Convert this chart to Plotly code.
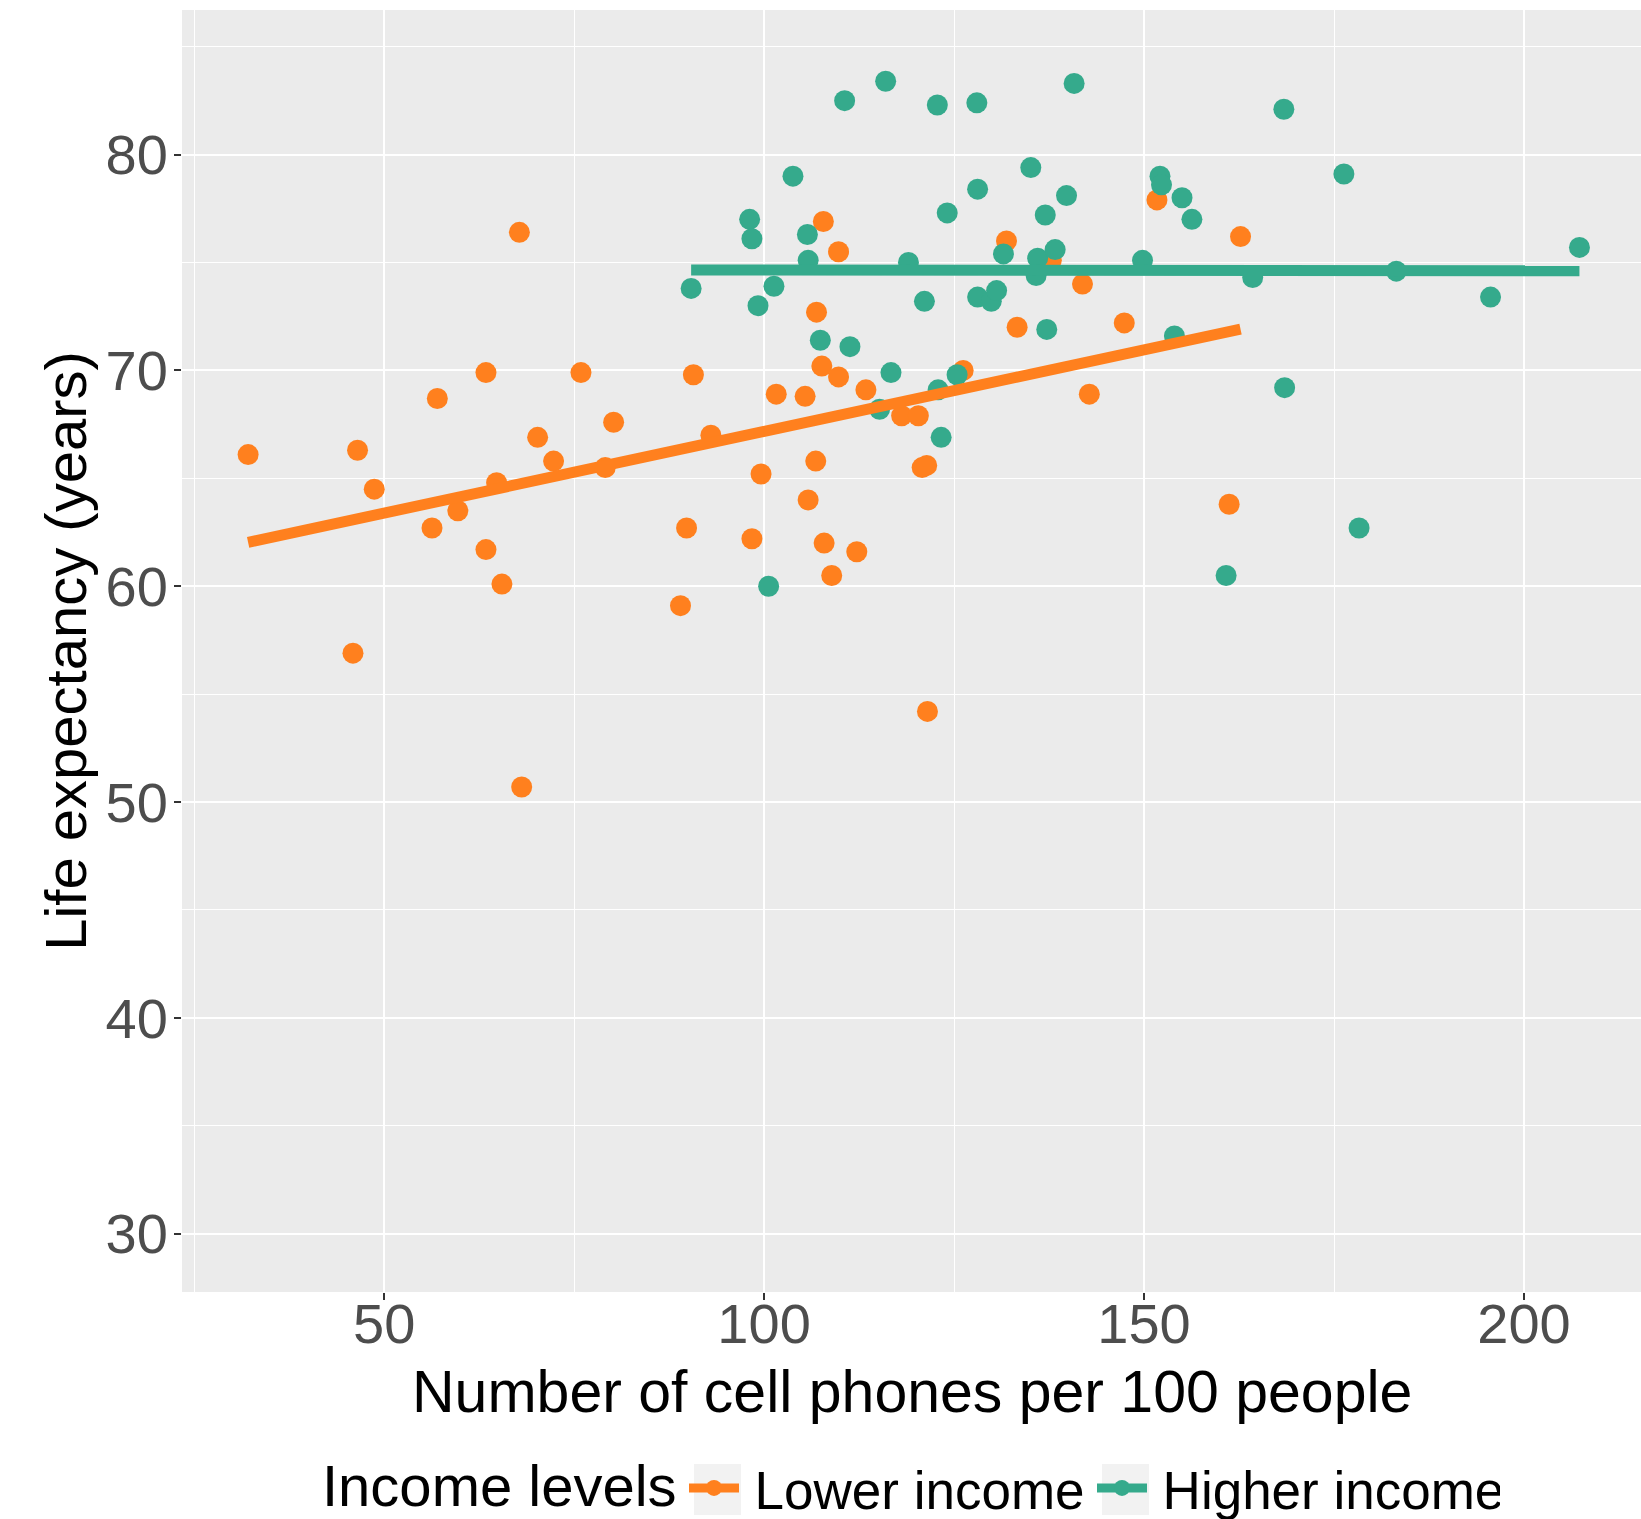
import numpy as np
import plotly.graph_objects as go

# Cell phones per 100 people vs. life expectancy, split by income level
lower_phones = [32.1, 45.9, 46.5, 48.7, 56.3, 57.0, 59.7, 63.4, 63.4, 64.8,
                65.5, 67.8, 68.1, 70.2, 72.3, 75.9, 79.1, 80.2, 89.0, 89.8,
                90.7, 93.0, 98.4, 99.6, 101.6, 105.4, 105.8, 106.8, 106.9, 107.6,
                107.8, 107.9, 108.9, 109.8, 109.8, 112.2, 113.4, 118.1, 120.3, 120.8,
                121.4, 121.5, 126.2, 131.9, 133.3, 137.8, 141.9, 142.8, 147.4, 151.7,
                161.2, 162.7]
lower_life = [66.1, 56.9, 66.3, 64.5, 62.7, 68.7, 63.5, 69.9, 61.7, 64.8,
              60.1, 76.4, 50.7, 66.9, 65.8, 69.9, 65.5, 67.6, 59.1, 62.7,
              69.8, 67.0, 62.2, 65.2, 68.9, 68.8, 64.0, 65.8, 72.7, 70.2,
              76.9, 62.0, 60.5, 75.5, 69.7, 61.6, 69.1, 67.9, 67.9, 65.5,
              65.6, 54.2, 70.0, 76.0, 72.0, 75.1, 74.0, 68.9, 72.2, 77.9,
              63.8, 76.2]

higher_phones = [90.4, 98.1, 98.4, 99.2, 100.6, 101.3, 103.8, 105.7, 105.8, 107.4,
                 110.6, 111.3, 115.2, 116.0, 116.7, 119.0, 121.1, 122.8, 122.9, 123.3,
                 124.1, 125.4, 128.0, 128.1, 128.1, 129.9, 130.6, 131.5, 135.1, 135.8,
                 136.0, 137.0, 137.2, 138.3, 139.8, 140.8, 149.8, 152.1, 152.3, 154.0,
                 155.0, 156.3, 160.8, 164.3, 168.4, 168.5, 176.3, 178.3, 183.2, 195.6,
                 207.3]
higher_life = [73.8, 77.0, 76.1, 73.0, 60.0, 73.9, 79.0, 76.3, 75.1, 71.4,
               82.5, 71.1, 68.2, 83.4, 69.9, 75.0, 73.2, 82.3, 69.1, 66.9,
               77.3, 69.8, 82.4, 78.4, 73.4, 73.2, 73.7, 75.4, 79.4, 74.4,
               75.2, 77.2, 71.9, 75.6, 78.1, 83.3, 75.1, 79.0, 78.6, 71.6,
               78.0, 77.0, 60.5, 74.3, 82.1, 69.2, 79.1, 62.7, 74.6, 73.4,
               75.7]

group_names = ["Lower income", "Higher income"]
group_colors = ["#FF801E", "#35AA8C"]
x_ticks = [50, 100, 150, 200]
y_ticks = [30, 40, 50, 60, 70, 80]

FONT = "Liberation Sans, Arial, Helvetica, sans-serif"
W, H = 1641, 1519
M_L, M_R, M_T, M_B = 182, 0, 10, 227
PLOT_W, PLOT_H = W - M_L - M_R, H - M_T - M_B


def px_to_paper_x(px):
    return (px - M_L) / PLOT_W


def px_to_paper_y(py):
    return (H - M_B - py) / PLOT_H


fig = go.Figure()

groups = [(lower_phones, lower_life), (higher_phones, higher_life)]
for (xs, ys), name, color in zip(groups, group_names, group_colors):
    fig.add_trace(go.Scatter(
        x=xs, y=ys, mode="markers", name=name, showlegend=False,
        legendgroup=name, marker=dict(color=color, size=21, line=dict(width=0)),
        cliponaxis=False,
    ))

for (xs, ys), name, color in zip(groups, group_names, group_colors):
    xs_arr = np.array(xs)
    ys_arr = np.array(ys)
    # least-squares linear fit, drawn across the group's x extent
    slope, intercept = np.polyfit(xs_arr, ys_arr, 1)
    fx = np.array([xs_arr.min(), xs_arr.max()])
    fig.add_trace(go.Scatter(
        x=fx, y=slope * fx + intercept, mode="lines", name=name,
        showlegend=False, legendgroup=name,
        line=dict(color=color, width=11),
    ))

# legend entries: line with a point, like the fitted-line + scatter layers
for name, color in zip(group_names, group_colors):
    fig.add_trace(go.Scatter(
        x=[None], y=[None], mode="lines+markers", name="\u2009" + name,
        legendgroup=name,
        line=dict(color=color, width=9), marker=dict(color=color, size=20),
    ))

axis_common = dict(
    showgrid=True, gridcolor="white", gridwidth=2.2,
    zeroline=False, showline=False, automargin=False,
    ticks="outside", ticklen=7, tickwidth=2, tickcolor="#333333",
    tickfont=dict(family=FONT, size=56, color="#4D4D4D"),
)

# light key backgrounds behind the legend symbols
key_boxes = []
for x0 in (694, 1102):
    key_boxes.append(dict(
        type="rect", xref="paper", yref="paper", layer="above",
        x0=px_to_paper_x(x0), x1=px_to_paper_x(x0 + 47),
        y0=px_to_paper_y(1515), y1=px_to_paper_y(1464),
        fillcolor="#F2F2F2", line=dict(width=0),
    ))

fig.update_layout(
    width=W, height=H,
    margin=dict(l=M_L, r=M_R, t=M_T, b=M_B, autoexpand=False),
    paper_bgcolor="white", plot_bgcolor="#EBEBEB",
    font=dict(family=FONT, color="black"),
    xaxis=dict(
        range=[23.4, 215.4], tickvals=x_ticks, ticktext=[str(v) for v in x_ticks],
        minor=dict(tickvals=[25, 75, 125, 175], showgrid=True,
                   gridcolor="white", gridwidth=1.1, ticks=""),
        ticklabelstandoff=-24,
        **axis_common,
    ),
    yaxis=dict(
        range=[27.3, 86.7], tickvals=y_ticks, ticktext=[str(v) for v in y_ticks],
        minor=dict(tickvals=[35, 45, 55, 65, 75, 85], showgrid=True,
                   gridcolor="white", gridwidth=1.1, ticks=""),
        title=dict(text="Life expectancy (years)",
                   font=dict(family=FONT, size=58, color="black"), standoff=0),
        ticklabelstandoff=-5,
        **axis_common,
    ),
    annotations=[
        dict(text="Number of cell phones per 100 people", xref="paper", yref="paper",
             x=0.5, y=px_to_paper_y(1357), xanchor="center", yanchor="top",
             showarrow=False, font=dict(family=FONT, size=59, color="black")),
        dict(text="Income levels", xref="paper", yref="paper",
             x=px_to_paper_x(679), y=px_to_paper_y(1451), xanchor="right",
             yanchor="top", showarrow=False,
             font=dict(family=FONT, size=58, color="black")),
    ],
    shapes=key_boxes,
    legend=dict(
        orientation="h", xref="container", x=684 / W, xanchor="left",
        yref="container", y=0.0204, yanchor="middle",
        font=dict(family=FONT, size=53, color="black"),
        bgcolor="rgba(0,0,0,0)", itemsizing="trace", itemwidth=50,
        entrywidth=343,
    ),
)

fig.write_html("out.html")
